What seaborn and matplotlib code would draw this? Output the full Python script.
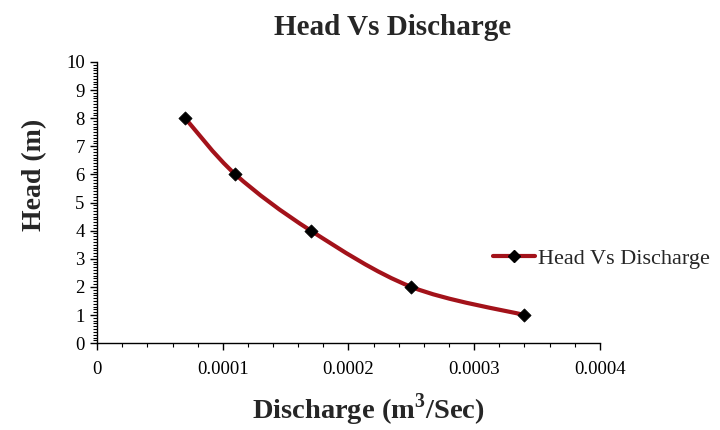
import numpy as np
import pandas as pd
import matplotlib
matplotlib.use("Agg")
import matplotlib.pyplot as plt
from matplotlib.path import Path
from matplotlib.patches import PathPatch
from matplotlib.lines import Line2D
from matplotlib.ticker import MultipleLocator, FuncFormatter
import seaborn as sns

# data
discharge = [0.00007, 0.00011, 0.00017, 0.00025, 0.00034]
head = [8, 6, 4, 2, 1]
series_name = "Head Vs Discharge"

LINE_RED = "#A3121A"

sns.set_style("white")
plt.rcParams["font.family"] = ["Liberation Serif", "DejaVu Serif"]
plt.rcParams["mathtext.fontset"] = "custom"
plt.rcParams["mathtext.rm"] = "Liberation Serif"
plt.rcParams["mathtext.bf"] = "Liberation Serif:bold"

df = pd.DataFrame({"discharge": discharge, "head": head})

fig = plt.figure(figsize=(7.2, 4.3), dpi=100)
ax = fig.add_axes([0.135, 0.202, 0.698, 0.654])

# smoothed line (Catmull-Rom style bezier through the data points, like Excel)
x = np.array(discharge)
y = np.array(head, dtype=float)
verts = [(x[0], y[0])]
codes = [Path.MOVETO]
n = len(x)
for i in range(n - 1):
    p0 = (x[i - 1], y[i - 1]) if i > 0 else (x[i], y[i])
    p1 = (x[i], y[i])
    p2 = (x[i + 1], y[i + 1])
    p3 = (x[i + 2], y[i + 2]) if i + 2 < n else (x[i + 1], y[i + 1])
    c1 = (p1[0] + (p2[0] - p0[0]) / 6, p1[1] + (p2[1] - p0[1]) / 6)
    c2 = (p2[0] - (p3[0] - p1[0]) / 6, p2[1] - (p3[1] - p1[1]) / 6)
    verts += [c1, c2, p2]
    codes += [Path.CURVE4] * 3
ax.add_patch(PathPatch(Path(verts, codes), facecolor="none", edgecolor=LINE_RED,
                       linewidth=3, zorder=2))

sns.scatterplot(data=df, x="discharge", y="head", marker="D", s=45, color="black",
                edgecolor="black", ax=ax, zorder=3, legend=False)

ax.set_xlim(0, 0.0004)
ax.set_ylim(0, 10)
ax.xaxis.set_major_locator(MultipleLocator(0.0001))
ax.xaxis.set_minor_locator(MultipleLocator(0.00002))
ax.yaxis.set_major_locator(MultipleLocator(1))
ax.yaxis.set_minor_locator(MultipleLocator(0.1))
ax.xaxis.set_major_formatter(FuncFormatter(lambda v, p: "0" if v == 0 else f"{v:.4f}"))

ax.tick_params(axis="both", which="major", direction="out", length=5, width=1,
               labelsize=13.5, colors="black", pad=4)
ax.tick_params(axis="x", which="major", pad=8)
ax.tick_params(axis="both", which="minor", direction="out", length=3, width=0.8,
               colors="black")
ax.tick_params(left=True, bottom=True, which="both")

for side in ["top", "right"]:
    ax.spines[side].set_visible(False)
for side in ["left", "bottom"]:
    ax.spines[side].set_color("black")
    ax.spines[side].set_linewidth(1)

ax.set_xlabel(r"Discharge (m$^{\mathbf{3}}$/Sec)", fontsize=20.5, fontweight="bold")
ax.xaxis.set_label_coords(0.54, -0.17)
ax.set_ylabel("Head (m)", fontsize=20, fontweight="bold")
ax.yaxis.set_label_coords(-0.1, 0.6)
fig.suptitle("Head Vs Discharge", fontsize=21, fontweight="bold", x=0.545, y=0.968)

handle = Line2D([], [], color=LINE_RED, linewidth=3, marker="D", markersize=6,
                markerfacecolor="black", markeredgecolor="black")
ax.legend([handle], [series_name], loc="center left", bbox_to_anchor=(0.77, 0.30),
          frameon=False, fontsize=16, handlelength=1.9, handletextpad=0.1, borderaxespad=0)

fig.savefig("out.png", dpi=100)
